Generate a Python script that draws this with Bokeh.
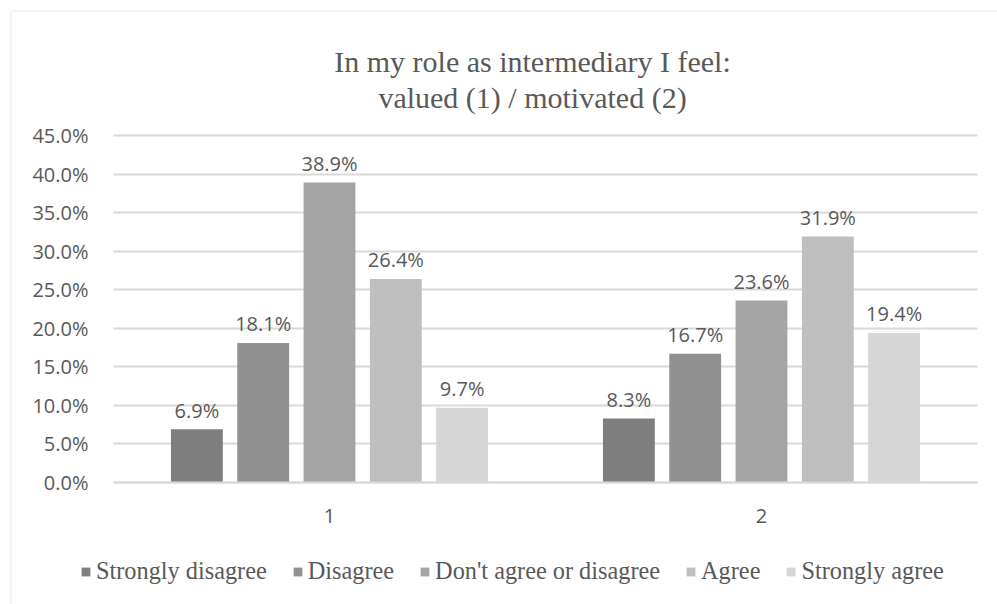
from bokeh.plotting import figure
from bokeh.models import (ColumnDataSource, Range1d, Legend, LegendItem, Label,
                          FixedTicker, PrintfTickFormatter, BoxAnnotation)
from bokeh.core.properties import value
from bokeh.embed import file_html
from bokeh.resources import INLINE

# ---- data -------------------------------------------------------------
title_lines = ["In my role as intermediary I feel:", "valued (1) / motivated (2)"]
groups = ["1", "2"]
responses = ["Strongly disagree", "Disagree", "Don't agree or disagree",
             "Agree", "Strongly agree"]
strongly_disagree = [6.9, 8.3]
disagree = [18.1, 16.7]
neither = [38.9, 23.6]
agree = [26.4, 31.9]
strongly_agree = [9.7, 19.4]
y_ticks = [0, 5, 10, 15, 20, 25, 30, 35, 40, 45]

series = [strongly_disagree, disagree, neither, agree, strongly_agree]
colors = ["#7f7f7f", "#919191", "#a5a5a5", "#bfbfbf", "#d6d6d6"]

TEXT = "#595959"
GRID = "#d9d9d9"
SANS = "Open Sans"
SERIF = "Liberation Serif"

# ---- page geometry (pixels) -------------------------------------------
W, H = 997, 604
PLOT_L, PLOT_R, PLOT_T, PLOT_B = 113, 977, 135, 482
n = len(groups)
Y_MAX = y_ticks[-1]
px_x = (PLOT_R - PLOT_L) / n          # pixels per category
px_y = (PLOT_B - PLOT_T) / Y_MAX      # pixels per percentage point


def dx(px):
    return (px - PLOT_L) / px_x


def dy(py):
    return (PLOT_B - py) / px_y


p = figure(width=W, height=H, x_range=Range1d(dx(0), dx(W)),
           y_range=Range1d(dy(H), dy(0)), output_backend="svg",
           toolbar_location=None, min_border=0)
p.outline_line_color = None
p.background_fill_color = "white"
p.border_fill_color = "white"

# grouped bars with value labels
centers = [gi + 0.5 for gi in range(n)]
bar_w = 0.12
step = 0.1535
items = []
for i, (name, vals) in enumerate(zip(responses, series)):
    off = (i - 2) * step
    src = ColumnDataSource(dict(x=[c + off for c in centers], top=vals,
                                label=[f"{v:.1f}%" for v in vals]))
    r = p.vbar(x="x", top="top", width=bar_w, source=src,
               fill_color=colors[i], line_color=None)
    p.text(x="x", y="top", text="label", source=src, text_align="center",
           text_baseline="alphabetic", y_offset=-19, text_font=value(SANS),
           text_font_size="20px", text_color=TEXT)
    items.append(LegendItem(label=name, renderers=[r]))

# axes pinned to the value/category origin
p.yaxis.fixed_location = 0
p.yaxis.ticker = FixedTicker(ticks=y_ticks)
p.yaxis.formatter = PrintfTickFormatter(format="%.1f%%")
p.yaxis.axis_line_color = None
p.yaxis.major_tick_line_color = None
p.yaxis.minor_tick_line_color = None
p.yaxis.major_tick_out = 0
p.yaxis.major_tick_in = 0
p.yaxis.major_label_standoff = 25
p.yaxis.major_label_text_font = SANS
p.yaxis.major_label_text_font_size = "20px"
p.yaxis.major_label_text_color = TEXT

p.xaxis.fixed_location = 0
p.xaxis.bounds = (0, n)
p.xaxis.ticker = FixedTicker(ticks=centers)
p.xaxis.major_label_overrides = {c: g for c, g in zip(centers, groups)}
p.xaxis.axis_line_color = GRID
p.xaxis.axis_line_width = 2
p.xaxis.major_tick_line_color = None
p.xaxis.minor_tick_line_color = None
p.xaxis.major_tick_out = 0
p.xaxis.major_tick_in = 0
p.xaxis.major_label_standoff = 26
p.xaxis.major_label_text_font = SANS
p.xaxis.major_label_text_font_size = "20px"
p.xaxis.major_label_text_color = TEXT

p.xgrid.grid_line_color = None
p.ygrid.ticker = FixedTicker(ticks=y_ticks)
p.ygrid.grid_line_color = GRID
p.ygrid.grid_line_width = 2
try:
    p.ygrid.cross_bounds = (0, n)
except AttributeError:
    p.ygrid.grid_line_color = None
    p.segment(x0=0, x1=n, y0=y_ticks, y1=y_ticks, line_color=GRID, line_width=2,
              level="underlay")

# two-line title
for txt, base in zip(title_lines, [61, 97]):
    p.add_layout(Label(x=dx(532), y=dy(base), text=txt, text_align="center",
                       text_baseline="alphabetic", text_font=SERIF,
                       text_font_size="30px", text_color=TEXT))

# legend under the category labels
legend = Legend(items=items, orientation="horizontal", location=(80, 19),
                glyph_width=11, glyph_height=11, label_standoff=5, spacing=25,
                padding=0, margin=0, border_line_color=None,
                background_fill_alpha=0, label_text_font=SERIF,
                label_text_font_size="24.3px", label_text_color=TEXT)
p.add_layout(legend, "center")

# chart border (left and top edges visible)
p.add_layout(BoxAnnotation(left=dx(10.5), top=dy(10.5), right=dx(W + 20),
                           bottom=dy(H + 20), fill_alpha=0, line_color=GRID,
                           line_width=2, level="underlay"))

open("out.html", "w").write(file_html(p, INLINE))
